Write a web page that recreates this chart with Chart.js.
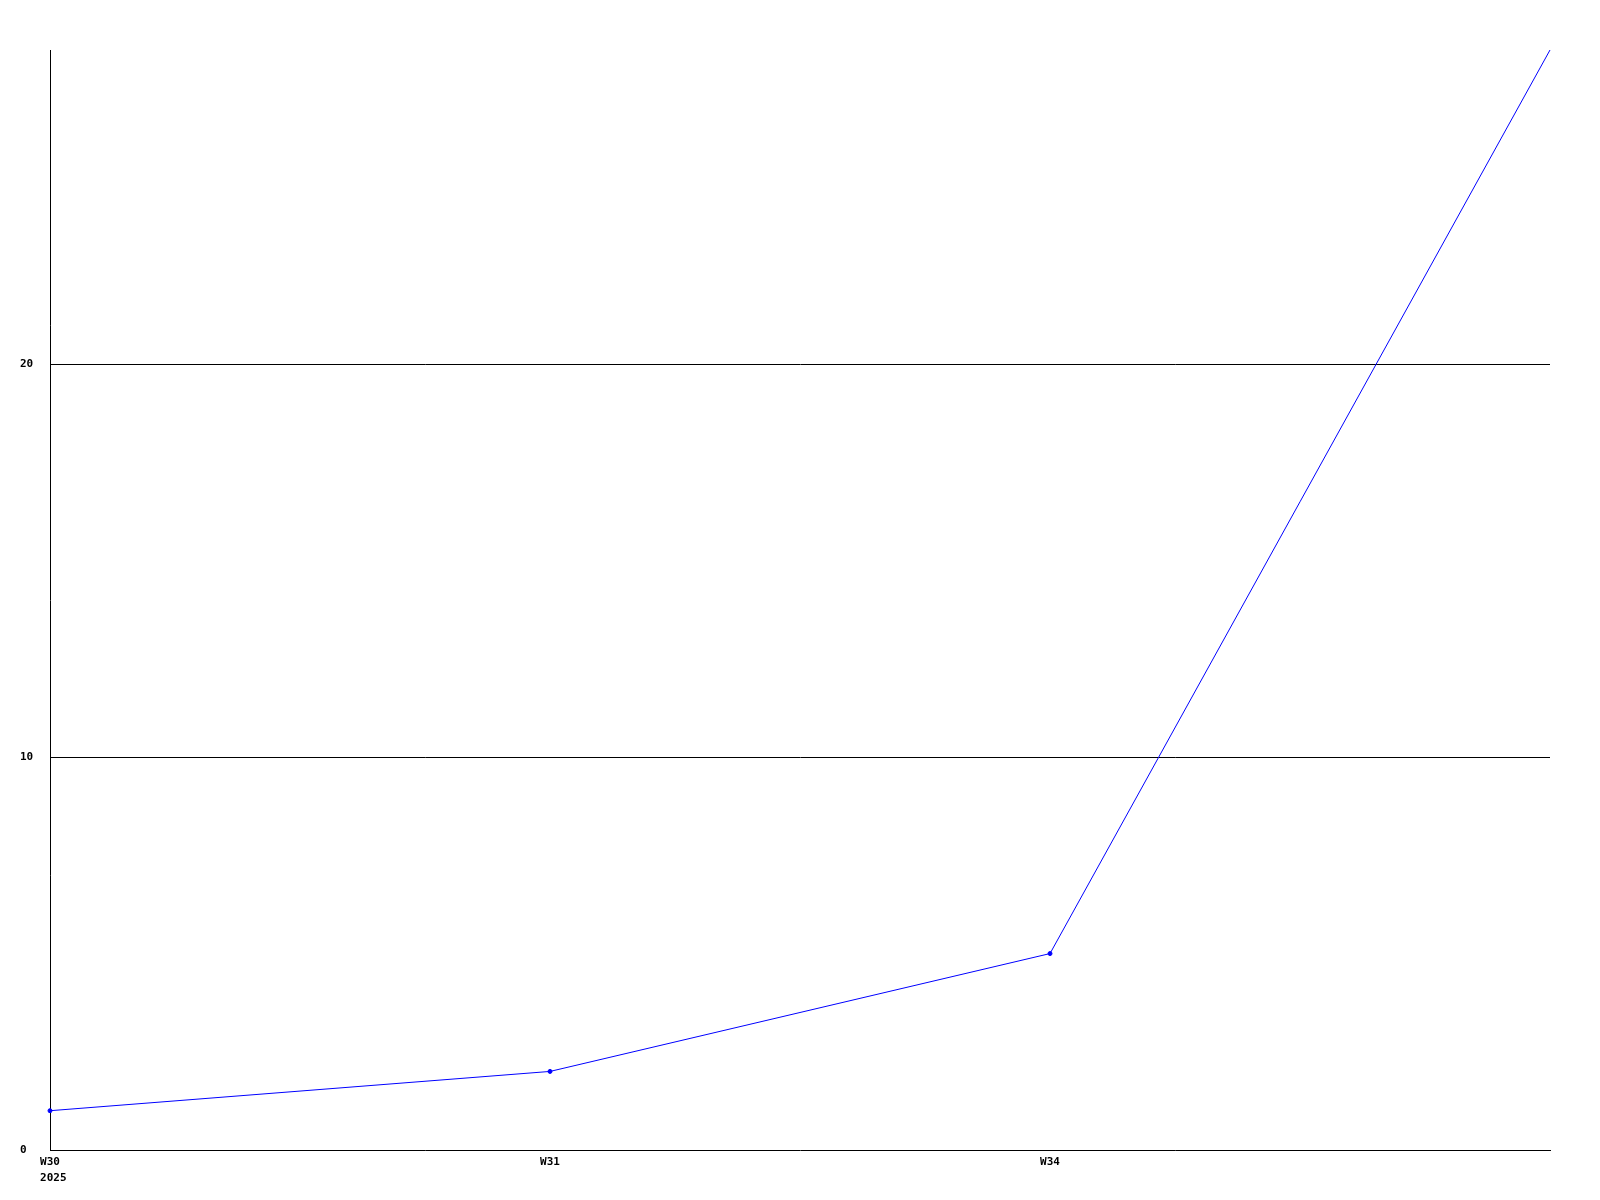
<!DOCTYPE html>
<html>
<head>
<meta charset="utf-8">
<script src="https://cdn.jsdelivr.net/npm/chart.js@4"></script>
<style>
    body { margin: 0; background: #fff; }
    canvas { display: block; }
</style>
</head>
<body>
<canvas id="weekChart" width="1600" height="1200"></canvas>
<script>
// data block
const weeks = ['W30', 'W31', 'W34', ''];
const yearLabel = '2025';
const counts = [1, 2, 5, 28];
const yMax = 28;
const yStep = 10;

const monoFont = {
    family: '"DejaVu Sans Mono", "Liberation Mono", monospace',
    size: 11,
    weight: 'bold',
    lineHeight: '15px'
};

// year under the first week label, left aligned with it
const yearPlugin = {
    id: 'yearLabel',
    afterDraw(chart) {
        const ctx = chart.ctx;
        const xScale = chart.scales.x;
        ctx.save();
        ctx.font = 'bold 11px "DejaVu Sans Mono", "Liberation Mono", monospace';
        ctx.fillStyle = '#000';
        ctx.textAlign = 'left';
        ctx.textBaseline = 'top';
        const first = xScale.getPixelForTick(0);
        const w = ctx.measureText(weeks[0]).width;
        ctx.fillText(yearLabel, first - w / 2, xScale.top + 5 + 18);
        ctx.restore();
    }
};

// config block
const config = {
    type: 'line',
    data: {
        labels: weeks,
        datasets: [{
            label: 'count',
            data: counts,
            borderColor: '#0000ff',
            backgroundColor: '#0000ff',
            borderWidth: 1,
            pointRadius: (c) => (c.parsed && c.parsed.y >= yMax) ? 0 : 2,
            pointHoverRadius: 2,
            tension: 0,
            fill: false
        }]
    },
    options: {
        responsive: false,
        animation: false,
        layout: {
            padding: { top: 50, right: 50, left: 20, bottom: 0 }
        },
        scales: {
            x: {
                offset: false,
                grid: { display: false, drawTicks: false },
                border: { display: true, color: '#000', width: 1 },
                ticks: {
                    color: '#000',
                    font: monoFont,
                    padding: 5,
                    autoSkip: false,
                    maxRotation: 0
                },
                afterFit: (scale) => { scale.height = 50; }
            },
            y: {
                min: 0,
                max: yMax,
                grid: {
                    drawTicks: false,
                    color: (ctx) => (ctx.tick && ctx.tick.value > 0 && ctx.tick.value % yStep === 0) ? '#000' : 'rgba(0,0,0,0)',
                    lineWidth: 1
                },
                border: { display: true, color: '#000', width: 1 },
                ticks: {
                    stepSize: yStep,
                    color: '#000',
                    font: monoFont,
                    crossAlign: 'far',
                    padding: 17,
                    callback: (value) => value % yStep === 0 ? value : ''
                },
                afterFit: (scale) => { scale.width = 30; }
            }
        },
        plugins: {
            legend: { display: false },
            tooltip: { enabled: false }
        }
    },
    plugins: [yearPlugin]
};

//render init block
const weekChart = new Chart(document.getElementById('weekChart'), config);
</script>
</body>
</html>
